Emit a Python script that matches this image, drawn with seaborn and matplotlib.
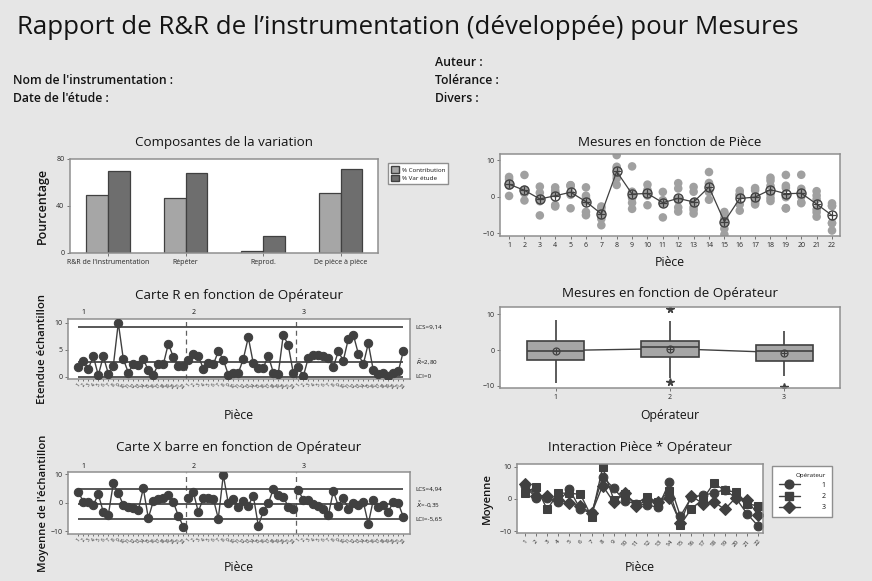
import numpy as np
import pandas as pd
import seaborn as sns
import matplotlib.pyplot as plt
from matplotlib.lines import Line2D
from matplotlib.patches import Patch

W, H = 872, 581

parts = list(range(1, 23))
operators = [1, 2, 3]

# moyennes des sous-groupes (carte X barre), une valeur par piece
xbar_op1 = [3.9, 0.4, 0.3, -0.8, 3.0, -3.2, -4.3, 6.8, 3.3, -0.7, -1.4,
            -1.8, -2.6, 5.1, -5.3, 0.5, 1.2, 1.8, 2.9, 0.3, -4.5, -8.3]
xbar_op2 = [1.8, 3.8, -3.2, 1.8, 1.8, 1.4, -5.5, 9.8, -0.2, 1.5, -1.4,
            0.6, -1.0, 2.5, -8.0, -3.0, -0.2, 4.8, 2.7, 2.1, -1.4, -2.2]
xbar_op3 = [4.5, 1.0, 1.0, -0.3, -1.2, -2.3, -4.4, 4.1, -1.0, 1.8, -2.2,
            -0.2, -0.8, 0.3, -7.3, 1.0, -1.4, -0.8, -3.2, 0.4, -0.2, -4.9]

# etendues des sous-groupes (carte R), 2 essais par piece
range_op1 = [1.8, 2.9, 1.5, 3.8, 0.3, 3.8, 0.6, 2.0, 10.0, 3.3, 0.8,
             2.3, 2.1, 3.3, 1.2, 0.4, 2.3, 2.3, 6.1, 3.7, 2.0, 2.0]
range_op2 = [3.2, 4.3, 3.9, 1.5, 2.6, 2.3, 4.7, 3.2, 0.4, 0.7, 0.7,
             3.3, 7.3, 2.5, 1.6, 1.7, 3.9, 0.8, 0.6, 7.8, 5.8, 0.7]
range_op3 = [1.8, 0.1, 3.5, 4.0, 4.0, 3.8, 3.4, 1.8, 4.7, 3.0, 7.0,
             7.8, 4.3, 2.3, 6.2, 1.2, 0.5, 0.8, 0.1, 0.8, 1.0, 4.7]

comp_labels = ["R&R de l'instrumentation", "Répéter", "Reprod.", "De pièce à pièce"]
pct_contribution = [49.0, 47.0, 2.0, 51.0]
pct_study_var = [70.0, 68.5, 14.5, 71.4]

r_limits = [9.14, 2.80, 0.0]
r_limit_labels = ["LCS=9,14", r"$\bar{R}$=2,80", "LCI=0"]
x_limits = [4.94, -0.35, -5.65]
x_limit_labels = ["LCS=4,94", r"$\bar{\bar{X}}$=-0,35", "LCI=-5,65"]

BG = '#e6e6e6'
DARK = '#404040'
LIGHT = '#a6a6a6'
MID = '#6e6e6e'
FRAME = '#8f8f8f'

sns.set_theme(style="white")
plt.rcParams['font.family'] = ['Open Sans', 'DejaVu Sans']
plt.rcParams['text.color'] = '#141414'
plt.rcParams['axes.labelcolor'] = '#141414'

sub = pd.DataFrame({
    'Opérateur': np.repeat(operators, len(parts)),
    'Pièce': parts * 3,
    'Moyenne': xbar_op1 + xbar_op2 + xbar_op3,
    'Etendue': range_op1 + range_op2 + range_op3,
})
sub['Echantillon'] = np.arange(1, len(sub) + 1)
# les deux essais de chaque sous-groupe
meas = pd.concat([
    sub.assign(Mesures=sub['Moyenne'] + sub['Etendue'] / 2, Essai=1),
    sub.assign(Mesures=sub['Moyenne'] - sub['Etendue'] / 2, Essai=2),
], ignore_index=True)


def px(x0, y0, x1, y1):
    return [x0 / W, 1 - y1 / H, (x1 - x0) / W, (y1 - y0) / H]


def style_ax(ax):
    ax.set_facecolor('white')
    for s in ax.spines.values():
        s.set_color(FRAME)
        s.set_linewidth(1.1)
    ax.tick_params(axis='both', labelsize=5, length=2, width=0.6,
                   color='#606060', pad=2, bottom=True, left=True)
    ax.set_xlabel('')
    ax.set_ylabel('')


def title(x, y, txt):
    fig.text(x / W, 1 - y / H, txt, ha='center', va='center', fontsize=9.6,
             fontweight='medium')


fig = plt.figure(figsize=(W / 100, H / 100), dpi=100, facecolor=BG)

fig.text(17 / W, 1 - 27 / H, "Rapport de R&R de l\u2019instrumentation (développée) pour Mesures",
         fontsize=18.6, ha='left', va='center', fontweight='medium')
for x, y, txt in [(13, 80, "Nom de l'instrumentation :"), (13, 99, "Date de l'étude :"),
                  (435, 62, "Auteur :"), (435, 80, "Tolérance :"), (435, 99, "Divers :")]:
    fig.text(x / W, 1 - y / H, txt, fontsize=8.8, ha='left', va='center',
             fontweight='semibold')

# Composantes de la variation
ax1 = fig.add_axes(px(70, 159, 378, 253))
comp = pd.DataFrame({
    'Composante': comp_labels * 2,
    'Pourcentage': pct_contribution + pct_study_var,
    'Type': ['% Contribution'] * 4 + ['% Var étude'] * 4,
})
sns.barplot(data=comp, x='Composante', y='Pourcentage', hue='Type',
            palette=[LIGHT, MID], saturation=1, edgecolor=DARK, linewidth=0.9,
            width=0.56, legend=False, ax=ax1)
style_ax(ax1)
ax1.set_xlim(-0.49, 3.48)
ax1.set_ylim(0, 80)
ax1.set_yticks([0, 40, 80])
ax1.tick_params(axis='x', labelsize=5)
ax1.set_ylabel('Pourcentage', fontsize=9, fontweight='semibold')
ax1.yaxis.set_label_coords(-0.07, 0.5)
title(224, 142, "Composantes de la variation")
ax1.legend(handles=[Patch(facecolor=LIGHT, edgecolor=DARK, label='% Contribution'),
                    Patch(facecolor=MID, edgecolor=DARK, label='% Var étude')],
           loc='upper left', bbox_to_anchor=(385 / W, 1 - 160 / H),
           bbox_transform=fig.transFigure, fontsize=4.5, handlelength=1.2,
           handleheight=1.2, handletextpad=0.5, labelspacing=0.3, borderpad=0.5,
           fancybox=False, edgecolor=FRAME, framealpha=1)

# Mesures en fonction de Piece
ax2 = fig.add_axes(px(500, 154, 840, 236))
sns.scatterplot(data=meas, x='Pièce', y='Mesures', color='#a0a0a0', s=38,
                edgecolor='none', ax=ax2, zorder=1)
sns.lineplot(data=meas, x='Pièce', y='Mesures', estimator='mean', errorbar=None,
             color=DARK, lw=0.9, marker='o', markersize=6.5, markerfacecolor='none',
             markeredgecolor=DARK, markeredgewidth=1, ax=ax2, zorder=3)
part_means = meas.groupby('Pièce', as_index=False)['Mesures'].mean()
sns.scatterplot(data=part_means, x='Pièce', y='Mesures', marker='+', color=DARK,
                s=26, linewidth=0.9, ax=ax2, zorder=4)
style_ax(ax2)
ax2.set_xlim(0.41, 22.52)
ax2.set_ylim(-10.8, 11.7)
ax2.set_xticks(parts)
ax2.set_yticks([-10, 0, 10])
ax2.set_xlabel('Pièce', fontsize=8.8, labelpad=5.5, fontweight='medium')
title(670, 142, "Mesures en fonction de Pièce")


def control_chart(ax, col, limits, labels, ylim, yticks, ylabel, box_h, lpad, lx):
    sns.lineplot(data=sub, x='Echantillon', y=col, units='Opérateur', estimator=None,
                 color=DARK, lw=1, marker='o', markersize=6, markeredgecolor=DARK,
                 ax=ax, zorder=3)
    ax.hlines(limits, sub['Echantillon'].min(), sub['Echantillon'].max(),
              color='#4a4a4a', lw=1.3, zorder=2)
    for b in [22.5, 44.5]:
        ax.axvline(b, ls=(0, (4, 3)), color='#606060', lw=0.9, zorder=1)
    style_ax(ax)
    ax.set_xlim(-1.06, 67.34)
    ax.set_ylim(*ylim)
    ax.set_yticks(yticks)
    ax.set_xticks(sub['Echantillon'])
    ax.set_xticklabels(sub['Pièce'], rotation=50, fontsize=3.4)
    ax.tick_params(axis='x', length=1.5, pad=1)
    ax.set_xlabel('Pièce', fontsize=8.8, labelpad=lpad, fontweight='medium')
    ax.set_ylabel(ylabel, fontsize=8.2, fontweight='semibold')
    ax.yaxis.set_label_coords(lx, 0.5)
    for start, op in zip([1, 23, 45], operators):
        ax.annotate(str(op), xy=(start + 1, 1 + 6 / box_h), xycoords=('data', 'axes fraction'),
                    fontsize=5, ha='center', va='center')
    for val, lab in zip(limits, labels):
        ax.annotate(lab, xy=(1.0, val), xycoords=('axes fraction', 'data'),
                    xytext=(4, 0), textcoords='offset points', fontsize=4.5,
                    ha='left', va='center', annotation_clip=False)


# Carte R
ax3 = fig.add_axes(px(68, 319, 410, 379))
control_chart(ax3, 'Etendue', r_limits, r_limit_labels, (-0.4, 10.7), [0, 5, 10],
              'Etendue échantillon', 60, 14, -0.058)
title(239, 295, "Carte R en fonction de Opérateur")

# Mesures en fonction de Operateur
ax4 = fig.add_axes(px(500, 307, 840, 388))
sns.pointplot(data=meas, x='Opérateur', y='Mesures', errorbar=None, color=DARK,
              markers='', linewidth=1, ax=ax4, zorder=1)
sns.boxplot(data=meas, x='Opérateur', y='Mesures', color=LIGHT, saturation=1,
            linecolor=DARK, linewidth=1.2, width=0.5, showcaps=False, fliersize=5.5,
            flierprops=dict(marker='*', markerfacecolor=DARK, markeredgecolor=DARK),
            ax=ax4)
sns.pointplot(data=meas, x='Opérateur', y='Mesures', errorbar=None, color=DARK,
              markers='o', linestyles='none', markersize=5, markerfacecolor='none',
              markeredgewidth=0.9, ax=ax4, zorder=5)
sns.pointplot(data=meas, x='Opérateur', y='Mesures', errorbar=None, color=DARK,
              markers='+', linestyles='none', markersize=4, markeredgewidth=0.8,
              ax=ax4, zorder=6)
style_ax(ax4)
ax4.set_xlim(-0.49, 2.49)
ax4.set_ylim(-10.6, 12)
ax4.set_yticks([-10, 0, 10])
ax4.set_xlabel('Opérateur', fontsize=8.8, labelpad=6, fontweight='medium')
title(670, 294, "Mesures en fonction de Opérateur")

# Carte X barre
ax5 = fig.add_axes(px(68, 472, 410, 534))
control_chart(ax5, 'Moyenne', x_limits, x_limit_labels, (-10.9, 10.8), [-10, 0, 10],
              "Moyenne de l'échantillon", 62, 11.5, -0.055)
title(239, 447, "Carte X barre en fonction de Opérateur")

# Interaction Piece * Operateur
ax6 = fig.add_axes(px(517, 464, 763, 533))
op_markers = ['o', 's', 'D']
sns.lineplot(data=sub, x='Pièce', y='Moyenne', style='Opérateur', markers=op_markers,
             dashes=False, color=DARK, lw=1, markersize=6.3, markeredgecolor=DARK,
             legend=False, ax=ax6)
style_ax(ax6)
ax6.set_xlim(0.28, 22.45)
ax6.set_ylim(-10.5, 10.8)
ax6.set_xticks(parts)
ax6.set_xticklabels(parts, rotation=50, fontsize=4.5)
ax6.set_yticks([-10, 0, 10])
ax6.set_xlabel('Pièce', fontsize=8.8, labelpad=9.5, fontweight='medium')
ax6.set_ylabel('Moyenne', fontsize=8.2, fontweight='semibold')
ax6.yaxis.set_label_coords(-0.1, 0.5)
title(640, 447, "Interaction Pièce * Opérateur")
handles = [Line2D([0], [0], color=DARK, lw=1, marker=m, markersize=6.3) for m in op_markers]
leg = ax6.legend(handles, [str(o) for o in operators], title='Opérateur', loc='upper left',
                 bbox_to_anchor=(769 / W, 1 - 463 / H), bbox_transform=fig.transFigure,
                 fontsize=5, title_fontsize=4.5, handlelength=3, handletextpad=3.2,
                 labelspacing=0.6, borderpad=0.9, fancybox=False, edgecolor=FRAME,
                 framealpha=1, alignment='right')

fig.savefig('out.png', dpi=100, facecolor=BG)
